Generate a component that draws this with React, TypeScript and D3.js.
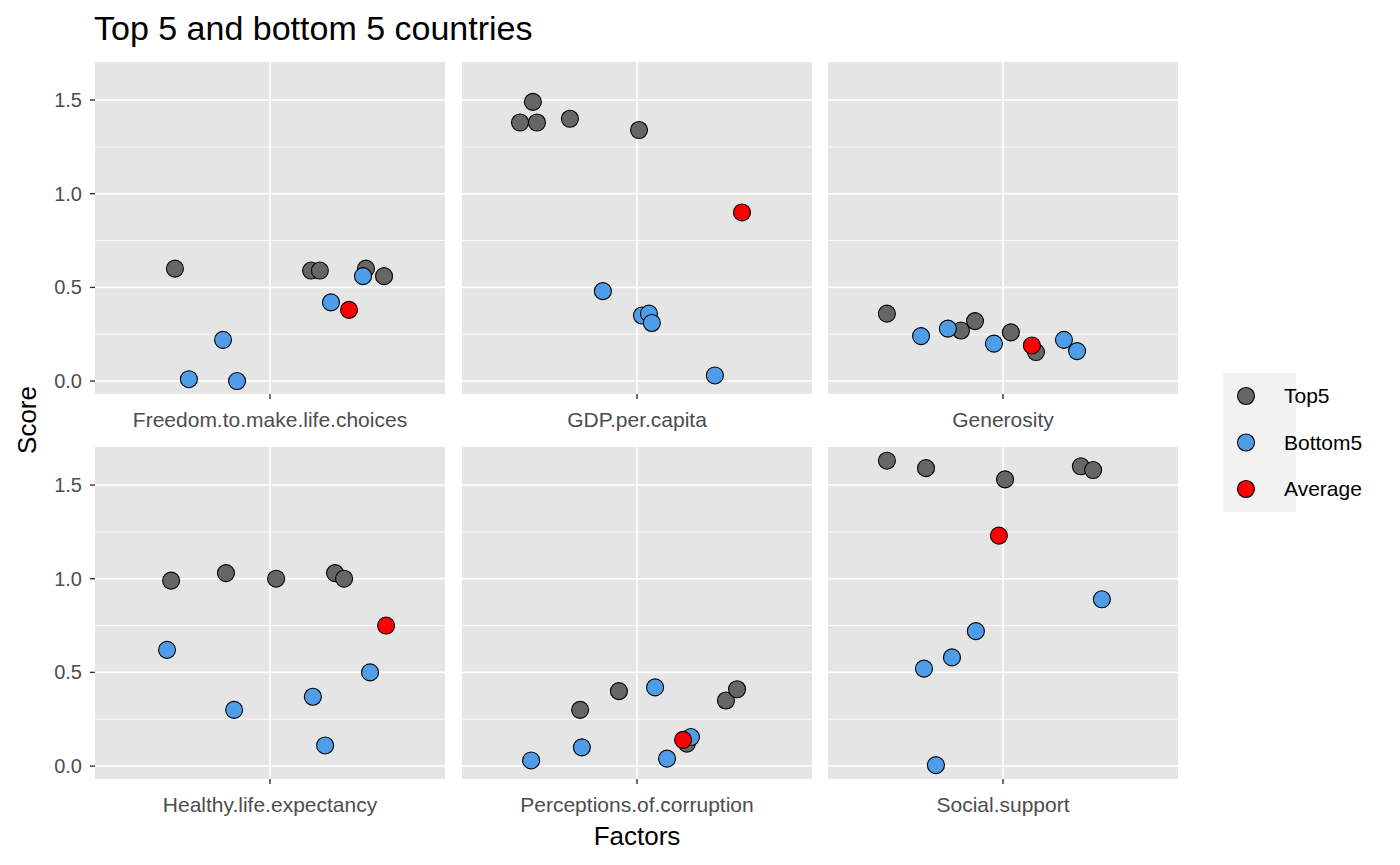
import React from "react";
import * as d3 from "d3";

const factors = ["Freedom.to.make.life.choices","GDP.per.capita","Generosity","Healthy.life.expectancy","Perceptions.of.corruption","Social.support"];
const groups = ["Top5","Bottom5","Average"];
const groupColors = ["#666666","#4F9DE8","#FF0000"];
const topVals = [[0.60,0.59,0.59,0.60,0.56],[1.38,1.49,1.38,1.40,1.34],[0.36,0.27,0.32,0.26,0.155],[0.99,1.03,1.00,1.03,1.00],[0.30,0.40,0.12,0.35,0.41],[1.63,1.59,1.53,1.60,1.58]];
const topJit = [[-0.326,0.141,0.171,0.329,0.391],[-0.401,-0.357,-0.343,-0.230,0.007],[-0.398,-0.144,-0.096,0.027,0.113],[-0.339,-0.151,0.021,0.223,0.254],[-0.195,-0.062,0.171,0.305,0.343],[-0.398,-0.264,0.007,0.267,0.309]];
const botVals = [[0.01,0.22,0.0,0.42,0.56],[0.48,0.35,0.36,0.31,0.03],[0.24,0.28,0.20,0.22,0.16],[0.62,0.30,0.37,0.11,0.50],[0.03,0.10,0.42,0.04,0.155],[0.52,0.58,0.72,0.005,0.89]];
const botJit = [[-0.278,-0.161,-0.113,0.209,0.319],[-0.117,0.017,0.041,0.051,0.267],[-0.281,-0.189,-0.031,0.209,0.254],[-0.353,-0.123,0.147,0.189,0.343],[-0.363,-0.189,0.062,0.103,0.185],[-0.271,-0.175,-0.093,-0.230,0.339]];
const avgVals = [0.38,0.90,0.19,0.75,0.14,1.23];
const avgJit = [0.271,0.360,0.099,0.398,0.158,-0.014];
const yTicks = [0,0.5,1,1.5];
const yMinor = [0.25,0.75,1.25];

const W = 1400, H = 865;
const panelW = 350, panelH = 332;
const panelX = [95, 462, 828];
const panelY = [62, 447];
const font = "Liberation Sans, Arial, sans-serif";

export default function App() {
  const y = d3.scaleLinear().domain([-0.069, 1.703]).range([panelH, 0]);
  const x = d3.scaleLinear().domain([-0.6, 0.6]).range([0, panelW]);
  return (
    <svg width={W} height={H} style={{ position: "absolute", left: 0, top: 0, fontFamily: font }}>
      <rect width={W} height={H} fill="white" />
      <text x={94} y={40} fontSize={34} fill="black">Top 5 and bottom 5 countries</text>
      {factors.map((f, i) => {
        const px = panelX[i % 3], py = panelY[Math.floor(i / 3)];
        const pts = [
          ...topVals[i].map((v, k) => ({ v, j: topJit[i][k], g: 0 })),
          ...botVals[i].map((v, k) => ({ v, j: botJit[i][k], g: 1 })),
          { v: avgVals[i], j: avgJit[i], g: 2 },
        ];
        return (
          <g key={f} transform={`translate(${px},${py})`}>
            <rect width={panelW} height={panelH} fill="#E5E5E5" />
            {yMinor.map(t => <line key={t} x1={0} x2={panelW} y1={y(t)} y2={y(t)} stroke="white" strokeWidth={0.8} />)}
            {yTicks.map(t => <line key={t} x1={0} x2={panelW} y1={y(t)} y2={y(t)} stroke="white" strokeWidth={1.6} />)}
            <line x1={x(0)} x2={x(0)} y1={0} y2={panelH} stroke="white" strokeWidth={1.6} />
            {pts.map((p, k) => (
              <circle key={k} cx={x(p.j)} cy={y(p.v)} r={8.5} fill={groupColors[p.g]} stroke="black" strokeWidth={1.1} />
            ))}
            <line x1={x(0)} x2={x(0)} y1={panelH} y2={panelH + 5} stroke="#333" strokeWidth={1.4} />
            <text x={x(0)} y={panelH + 33} fontSize={21} fill="#4D4D4D" textAnchor="middle">{f}</text>
            {i % 3 === 0 && yTicks.map(t => (
              <g key={t}>
                <line x1={-5} x2={0} y1={y(t)} y2={y(t)} stroke="#333" strokeWidth={1.4} />
                <text x={-13} y={y(t) + 7} fontSize={20} fill="#4D4D4D" textAnchor="end">{d3.format(".1f")(t)}</text>
              </g>
            ))}
          </g>
        );
      })}
      <text transform="translate(36,420) rotate(-90)" fontSize={26} textAnchor="middle">Score</text>
      <text x={637} y={845} fontSize={26} textAnchor="middle">Factors</text>
      <rect x={1223} y={373} width={73} height={139} fill="#F2F2F2" />
      {groups.map((g, k) => (
        <g key={g}>
          <circle cx={1246} cy={396 + k * 46.5} r={8.5} fill={groupColors[k]} stroke="black" strokeWidth={1.1} />
          <text x={1284} y={403 + k * 46.5} fontSize={21}>{g}</text>
        </g>
      ))}
    </svg>
  );
}
